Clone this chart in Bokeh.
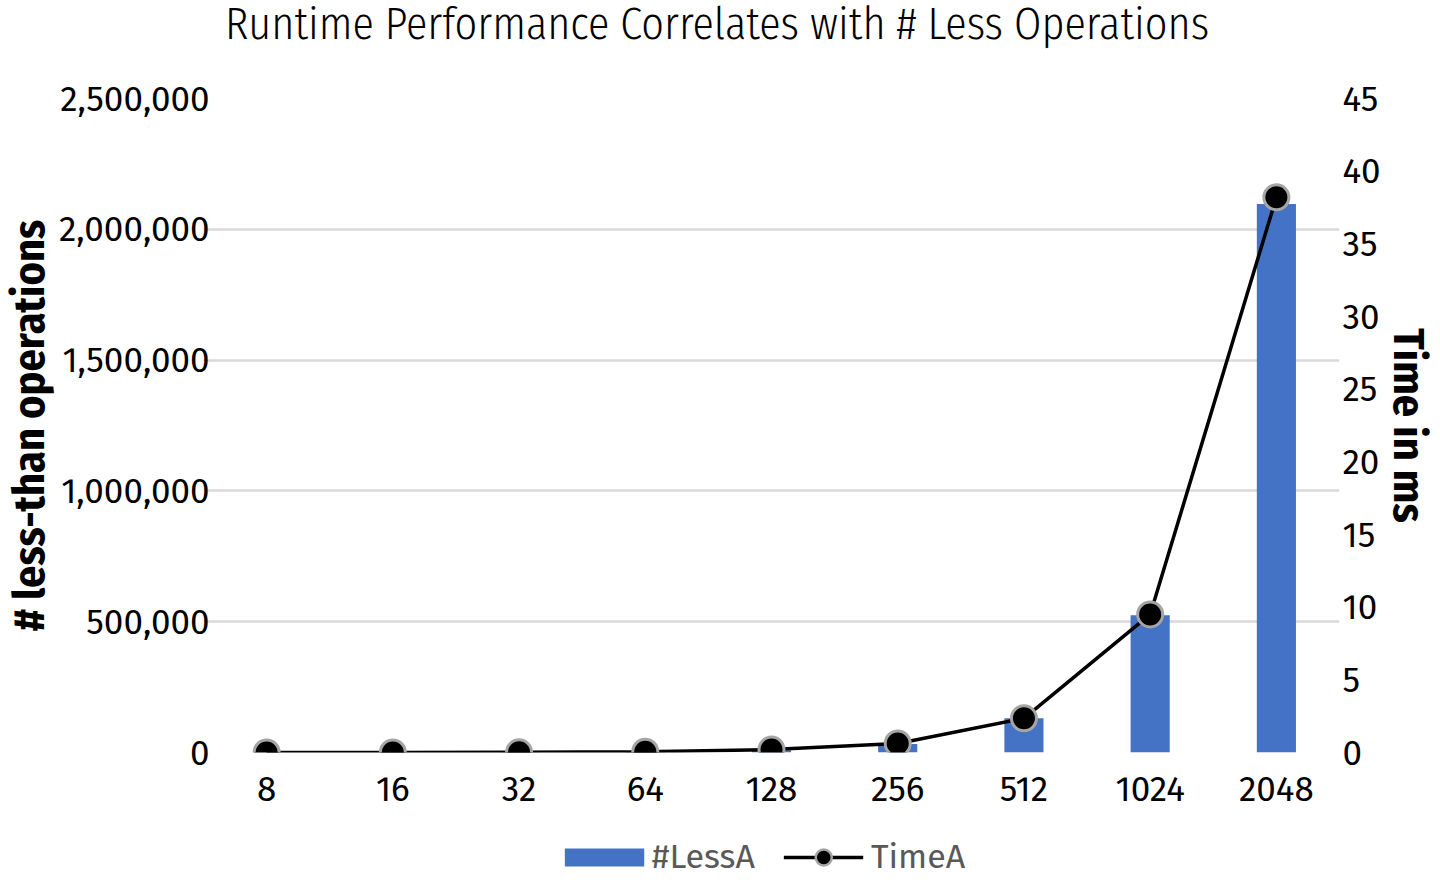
from bokeh.plotting import figure
from bokeh.models import (Range1d, LinearAxis, FactorRange, NumeralTickFormatter,
                          Legend, LegendItem, ColumnDataSource, FixedTicker, Div)
from bokeh.layouts import column
from bokeh.embed import file_html
from bokeh.resources import INLINE

categories = ["8", "16", "32", "64", "128", "256", "512", "1024", "2048"]
less_a = [32, 128, 512, 2048, 8192, 32768, 131072, 524288, 2097152]
time_a = [0.0, 0.005, 0.01, 0.05, 0.2, 0.62, 2.35, 9.5, 38.2]
left_ticks = [0, 500000, 1000000, 1500000, 2000000, 2500000]
right_ticks = [0, 5, 10, 15, 20, 25, 30, 35, 40, 45]
title_text = "Runtime Performance Correlates with # Less Operations"

TITLE_FONT = "'Fira Sans Condensed Light', 'Fira Sans Condensed', 'Liberation Sans Narrow', sans-serif"
TICK_FONT = "'Fira Sans', 'Liberation Sans', sans-serif"
LABEL_FONT = "'Fira Sans Condensed', 'Fira Sans', 'Liberation Sans Narrow', sans-serif"

src = ColumnDataSource(dict(cat=categories, less=less_a, time=time_a))

title = Div(text=title_text, width=1424, height=40,
            styles={"font-family": TITLE_FONT, "font-size": "44px", "line-height": "40px",
                    "text-align": "center", "color": "#000000", "width": "1424px",
                    "white-space": "nowrap"})

p = figure(frame_width=1136, frame_height=654, x_range=FactorRange(*categories),
           y_range=Range1d(0, 2500000), output_backend="svg", toolbar_location=None,
           min_border_left=196, min_border_right=92, min_border_top=48, min_border_bottom=62)
p.extra_y_ranges = {"time": Range1d(0, 45)}

p.outline_line_color = None
p.xgrid.grid_line_color = None
p.ygrid.grid_line_color = "#d9d9d9"
p.ygrid.grid_line_width = 2.5
p.yaxis.ticker = FixedTicker(ticks=left_ticks)

p.vbar(x="cat", top="less", width=0.31, source=src, fill_color="#4472c4", line_color=None)
p.line(x="cat", y="time", source=src, line_color="black", line_width=3.5, y_range_name="time")
p.scatter(x="cat", y="time", source=src, size=25, fill_color="black",
          line_color="#a5a5a5", line_width=3, y_range_name="time")

right = LinearAxis(y_range_name="time", ticker=FixedTicker(ticks=right_ticks))
p.add_layout(right, "right")

for ax in [p.yaxis[0], right, p.xaxis[0]]:
    ax.axis_line_color = None
    ax.major_tick_line_color = None
    ax.minor_tick_line_color = None
    ax.major_label_text_font = TICK_FONT
    ax.major_label_text_font_size = "35px"
    ax.major_label_text_color = "#000000"
    ax.axis_label_text_font = LABEL_FONT
    ax.axis_label_text_font_size = "44px"
    ax.axis_label_text_font_style = "bold"
    ax.axis_label_text_color = "#000000"

p.yaxis[0].formatter = NumeralTickFormatter(format="0,0")
p.yaxis[0].axis_label = "# less-than operations"
p.yaxis[0].axis_label_standoff = 0
p.yaxis[0].major_label_standoff = -12
right.axis_label = "Time in ms"
right.axis_label_standoff = -2
right.major_label_standoff = -3
p.xaxis[0].major_label_standoff = 18

# legend strip below the chart: its renderers use the same data, but the strip's
# ranges keep them out of view, so only the legend swatches show
lf = figure(width=1424, height=63, output_backend="svg", toolbar_location=None,
            x_axis_type=None, y_axis_type=None, min_border=0,
            x_range=Range1d(-1000, -999), y_range=Range1d(-1000, -999))
lf.outline_line_color = None
lf.grid.grid_line_color = None
sw_bar = lf.line(x="time", y="less", source=src, line_color="#4472c4", line_width=18, line_cap="butt")
sw_line = lf.line(x="time", y="less", source=src, line_color="black", line_width=3.5)
sw_pt = lf.scatter(x="time", y="less", source=src, fill_color="black", line_color="#a5a5a5", line_width=2.5)

legend = Legend(items=[LegendItem(label="#LessA", renderers=[sw_bar]),
                       LegendItem(label="TimeA", renderers=[sw_line, sw_pt])],
                orientation="horizontal", location="bottom_center",
                label_text_font=TICK_FONT, label_text_font_size="34px", label_text_color="#595959",
                glyph_width=80, glyph_height=40, spacing=28, border_line_color=None,
                background_fill_alpha=0, padding=0, margin=0, label_standoff=8)
lf.add_layout(legend, "center")

layout = column(title, p, lf, spacing=0)
open("out.html", "w").write(file_html(layout, INLINE))
